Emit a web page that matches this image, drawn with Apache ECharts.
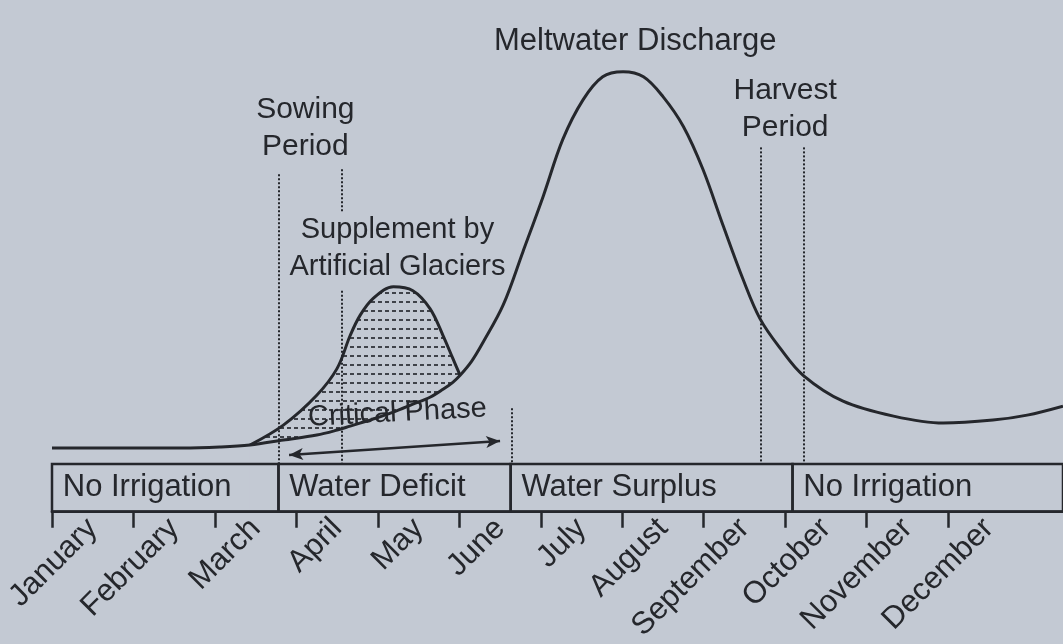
<!DOCTYPE html>
<html>
<head>
<meta charset="utf-8">
<script src="https://cdn.jsdelivr.net/npm/echarts@6/dist/echarts.min.js"></script>
<style>
html,body{margin:0;padding:0;background:#c3c9d3;}
#chart{width:1063px;height:644px;}
</style>
</head>
<body>
<div id="chart"></div>
<script>
// ---- data (x in months from 1 January, y in relative discharge units) ----
const months = ['January','February','March','April','May','June','July','August','September','October','November','December'];

const meltX = [0, 0.8, 1.6, 2.06, 2.43, 2.84, 3.25, 3.50, 3.66, 3.78, 3.94, 4.19, 4.43, 4.64, 4.80, 4.92, 5.01,
               5.15, 5.29, 5.54, 5.78, 6.03, 6.27, 6.52, 6.76, 7.01, 7.26, 7.50, 7.75, 7.99, 8.24, 8.48, 8.69, 8.94,
               9.22, 9.71, 10.33, 10.94, 11.55, 11.97, 12.41];
const meltY = [12.8, 12.8, 12.8, 13.0, 13.4, 14.4, 15.4, 16.4, 17.2, 17.8, 18.6, 20.0, 21.6, 23.0, 24.6, 26.0, 27.4,
               30.2, 34.0, 41.6, 52.2, 63.4, 74.8, 82.8, 87.4, 88.4, 87.4, 83.4, 77.4, 68.8, 57.4, 46.8, 38.8, 32.8,
               27.4, 22.2, 19.2, 17.8, 18.4, 19.4, 21.2];

const glacierX = [2.43, 2.84, 3.25, 3.50, 3.66, 3.78, 3.94, 4.19, 4.43, 4.64, 4.80, 4.92, 5.01];
const glacierY = [13.4, 17.4, 23.4, 28.8, 35.4, 39.4, 42.8, 45.2, 44.4, 40.8, 35.4, 30.8, 27.4];

const zoneNames = ['No Irrigation', 'Water Deficit', 'Water Surplus', 'No Irrigation'];
const zoneEdges = [0, 2.78, 5.63, 9.09, 12.6];
const zoneHeight = 9.6;

const periodLines = [2.78, 3.56, 8.70, 9.23];
const juneLine = 5.64;
const criticalPhase = [[2.91, 11.4], [5.50, 14.2]];

// ---- derived structures ----
const melt = meltX.map((x, i) => [x, meltY[i]]);
const glacier = glacierX.map((x, i) => [x, glacierY[i]]);
const meltUnderGlacier = glacierX.map(x => [x, meltY[meltX.indexOf(x)]]);

const bg = '#c3c9d3';
const ink = '#25272c';
const font = '"Liberation Sans", Arial, sans-serif';

// hatch pattern (short horizontal dashes)
const pc = document.createElement('canvas');
pc.width = 7; pc.height = 9;
const g = pc.getContext('2d');
g.fillStyle = 'rgba(40,42,48,0.85)';
g.fillRect(0, 4, 4, 2);

const boxes = zoneNames.map((n, i) => [
  { xAxis: zoneEdges[i], yAxis: 0, name: n },
  { xAxis: zoneEdges[i + 1], yAxis: zoneHeight }
]);

const dotted = { type: [2, 2], color: ink, width: 2 };
const vLines = [
  [{ coord: [periodLines[0], 67.8] }, { coord: [periodLines[0], zoneHeight] }],
  [{ coord: [periodLines[1], 68.8] }, { coord: [periodLines[1], 60.2] }],
  [{ coord: [periodLines[1], 44.4] }, { coord: [periodLines[1], zoneHeight] }],
  [{ coord: [juneLine, 20.8] }, { coord: [juneLine, zoneHeight] }],
  [{ coord: [periodLines[2], 73.2] }, { coord: [periodLines[2], zoneHeight] }],
  [{ coord: [periodLines[3], 73.2] }, { coord: [periodLines[3], zoneHeight] }]
];

const annotations = [
  { text: 'Meltwater Discharge', coord: [7.16, 94.4], rotate: 0, size: 31 },
  { text: 'Sowing\nPeriod', coord: [3.11, 77.0], rotate: 0, size: 30 },
  { text: 'Harvest\nPeriod', coord: [9.0, 80.8], rotate: 0, size: 30 },
  { text: 'Supplement by\nArtificial Glaciers', coord: [4.24, 52.8], rotate: 0, size: 29 },
  { text: 'Critical Phase', coord: [4.24, 19.8], rotate: 3, size: 29 }
];

const tickVals = months.map((m, i) => i);
const labelVals = months.map((m, i) => i + 0.5);

const chart = echarts.init(document.getElementById('chart'), null, { renderer: 'canvas' });
chart.setOption({
  backgroundColor: bg,
  animation: false,
  grid: { left: 52, right: 0, top: 14, bottom: 130, containLabel: false },
  xAxis: {
    type: 'value', min: 0, max: 12.41, position: 'bottom', z: 10,
    axisLine: { show: true, onZero: false, lineStyle: { color: ink, width: 2.5 } },
    axisTick: { show: true, length: 16, lineStyle: { color: ink, width: 2.5 }, customValues: tickVals },
    axisLabel: {
      show: true, rotate: 45, margin: 12, fontSize: 31, color: ink, fontFamily: font,
      customValues: labelVals,
      formatter: (v) => months[Math.floor(v)] || ''
    },
    splitLine: { show: false }
  },
  yAxis: { type: 'value', min: 0, max: 100, show: false },
  series: [
    {
      type: 'line', name: 'Supplement by Artificial Glaciers', data: glacier,
      showSymbol: false, smooth: 0.35, lineStyle: { color: ink, width: 3 },
      areaStyle: { color: { image: pc, repeat: 'repeat' }, opacity: 1 }, z: 2, silent: true
    },
    {
      type: 'line', name: 'mask', data: meltUnderGlacier,
      showSymbol: false, smooth: 0.35, lineStyle: { opacity: 0 },
      areaStyle: { color: bg, opacity: 1 }, z: 3, silent: true
    },
    {
      type: 'line', name: 'Meltwater Discharge', data: melt,
      showSymbol: false, smooth: 0.35, lineStyle: { color: ink, width: 3 }, z: 4,
      markArea: {
        silent: true, z: 6,
        itemStyle: { color: 'rgba(0,0,0,0)', borderColor: ink, borderWidth: 2.5 },
        label: { show: true, position: 'insideLeft', distance: 12, fontSize: 31, color: ink, fontFamily: font },
        data: boxes
      },
      markLine: {
        silent: true, symbol: 'none', z: 7, label: { show: false },
        lineStyle: dotted,
        data: vLines.concat([
          [{ coord: criticalPhase[0], symbol: 'arrow', symbolSize: [9, 14],
             lineStyle: { type: 'solid', width: 2.5, color: ink } },
           { coord: criticalPhase[1], symbol: 'arrow', symbolSize: [9, 14] }]
        ])
      },
      markPoint: {
        silent: true, symbol: 'circle', symbolSize: 0, z: 8,
        label: { show: true, position: 'inside', lineHeight: 37, color: ink, fontFamily: font },
        data: annotations.map(a => ({ coord: a.coord, value: a.text,
          label: { formatter: a.text, rotate: a.rotate, fontSize: a.size } }))
      }
    }
  ]
});
</script>
</body>
</html>
